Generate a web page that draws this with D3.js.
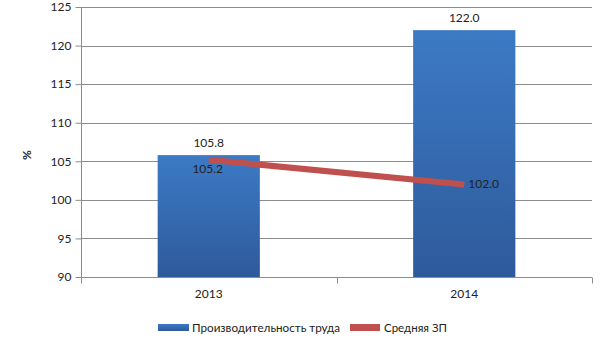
<!DOCTYPE html>
<html>
<head>
<meta charset="utf-8">
<script src="https://cdn.jsdelivr.net/npm/d3@7"></script>
<style>
  html, body { margin: 0; padding: 0; background: #fff; }
  svg { display: block; font-family: Lato, "Open Sans", sans-serif; }
</style>
</head>
<body>
<svg id="chart" width="605" height="340"></svg>
<script>
// Chart data
const years = ["2013", "2014"];
const productivity = [105.8, 122.0];   // Производительность труда
const avgWage = [105.2, 102.0];        // Средняя ЗП
const yTicks = [90, 95, 100, 105, 110, 115, 120, 125];
const seriesNames = ["Производительность труда", "Средняя ЗП"];

const svg = d3.select("#chart");
const margin = { left: 81, right: 13, top: 7, bottom: 63 };
const W = 605, H = 340;
const plotW = W - margin.left - margin.right;
const plotH = H - margin.top - margin.bottom;

const x = d3.scaleBand().domain(years).range([margin.left, margin.left + plotW]).paddingInner(0.6).paddingOuter(0.3);
const xBand = d3.scaleBand().domain(years).range([margin.left, margin.left + plotW]);
const y = d3.scaleLinear().domain([90, 125]).range([margin.top + plotH, margin.top]);

const defs = svg.append("defs");
const grad = defs.append("linearGradient").attr("id", "barGrad").attr("x1", 0).attr("y1", 0).attr("x2", 0).attr("y2", 1);
grad.append("stop").attr("offset", "0%").attr("stop-color", "#3C7AC5");
grad.append("stop").attr("offset", "100%").attr("stop-color", "#2E5A9B");

// Gridlines
svg.append("g").selectAll("line").data(yTicks).join("line")
  .attr("x1", margin.left).attr("x2", margin.left + plotW)
  .attr("y1", d => Math.round(y(d)) + 0.5).attr("y2", d => Math.round(y(d)) + 0.5)
  .attr("stroke", "#8c8c8c").attr("stroke-width", 1);

// Y axis
const yAxis = svg.append("g").attr("transform", `translate(${margin.left + 0.5},0)`)
  .call(d3.axisLeft(y).tickValues(yTicks).tickSize(6).tickPadding(4).tickFormat(d3.format("d")));
yAxis.select(".domain").attr("stroke", "#8c8c8c").attr("d", `M0,${margin.top}V${margin.top + plotH + 6}`);
yAxis.selectAll(".tick line").attr("stroke", "#8c8c8c").attr("x2", -6);
yAxis.selectAll("text").attr("font-size", 12).attr("fill", "#222").attr("font-family", "Lato, sans-serif");

// X axis
const xAxis = svg.append("g").attr("transform", `translate(0,${Math.round(margin.top + plotH) + 0.5})`);
xAxis.append("line").attr("x1", margin.left).attr("x2", margin.left + plotW).attr("stroke", "#8c8c8c");
const bounds = [margin.left, ...years.map(d => xBand(d) + xBand.bandwidth())];
xAxis.selectAll("line.tk").data(bounds).join("line").attr("class", "tk")
  .attr("x1", d => Math.round(d) + 0.5).attr("x2", d => Math.round(d) + 0.5)
  .attr("y1", 0).attr("y2", 6).attr("stroke", "#8c8c8c");
xAxis.selectAll("text").data(years).join("text")
  .attr("x", d => xBand(d) + xBand.bandwidth() / 2).attr("y", 20)
  .attr("text-anchor", "middle").attr("font-size", 12).attr("fill", "#222").text(d => d);

// Bars
svg.append("g").selectAll("rect").data(years).join("rect")
  .attr("x", d => x(d)).attr("width", x.bandwidth())
  .attr("y", (d, i) => y(productivity[i]))
  .attr("height", (d, i) => y(90) - y(productivity[i]))
  .attr("fill", "url(#barGrad)");

// Bar labels
svg.append("g").selectAll("text").data(years).join("text")
  .attr("x", d => x(d) + x.bandwidth() / 2)
  .attr("y", (d, i) => y(productivity[i]) - 8)
  .attr("text-anchor", "middle").attr("font-size", 12).attr("fill", "#222")
  .text((d, i) => productivity[i].toFixed(1));

// Line
const cx = d => xBand(d) + xBand.bandwidth() / 2;
svg.append("path")
  .datum(years)
  .attr("d", d3.line().x(cx).y((d, i) => y(avgWage[i])))
  .attr("fill", "none").attr("stroke", "#C0504D").attr("stroke-width", 6);

// Line labels
svg.append("text").attr("x", cx(years[0]) - 1).attr("y", y(avgWage[0]) + 13)
  .attr("text-anchor", "middle").attr("font-size", 12).attr("fill", "#222").text(avgWage[0].toFixed(1));
svg.append("text").attr("x", cx(years[1]) + 4).attr("y", y(avgWage[1]) + 4)
  .attr("text-anchor", "start").attr("font-size", 12).attr("fill", "#222").text(avgWage[1].toFixed(1));

// Y title
svg.append("text").attr("transform", "translate(31,155) rotate(-90)")
  .attr("text-anchor", "middle").attr("font-size", 12).attr("font-weight", "bold").attr("fill", "#222").text("%");

// Legend
const legend = svg.append("g").attr("transform", "translate(158,328)");
legend.append("rect").attr("x", 0).attr("y", -4).attr("width", 31).attr("height", 7).attr("fill", "url(#barGrad)");
legend.append("text").attr("x", 34).attr("y", 4).attr("font-size", 11.5).attr("fill", "#222")
  .attr("textLength", 148).attr("lengthAdjust", "spacingAndGlyphs").text(seriesNames[0]);
legend.append("rect").attr("x", 192).attr("y", -4).attr("width", 30).attr("height", 7).attr("fill", "#C0504D");
legend.append("text").attr("x", 226).attr("y", 4).attr("font-size", 11.5).attr("fill", "#222")
  .attr("textLength", 63).attr("lengthAdjust", "spacingAndGlyphs").text(seriesNames[1]);
</script>
</body>
</html>
